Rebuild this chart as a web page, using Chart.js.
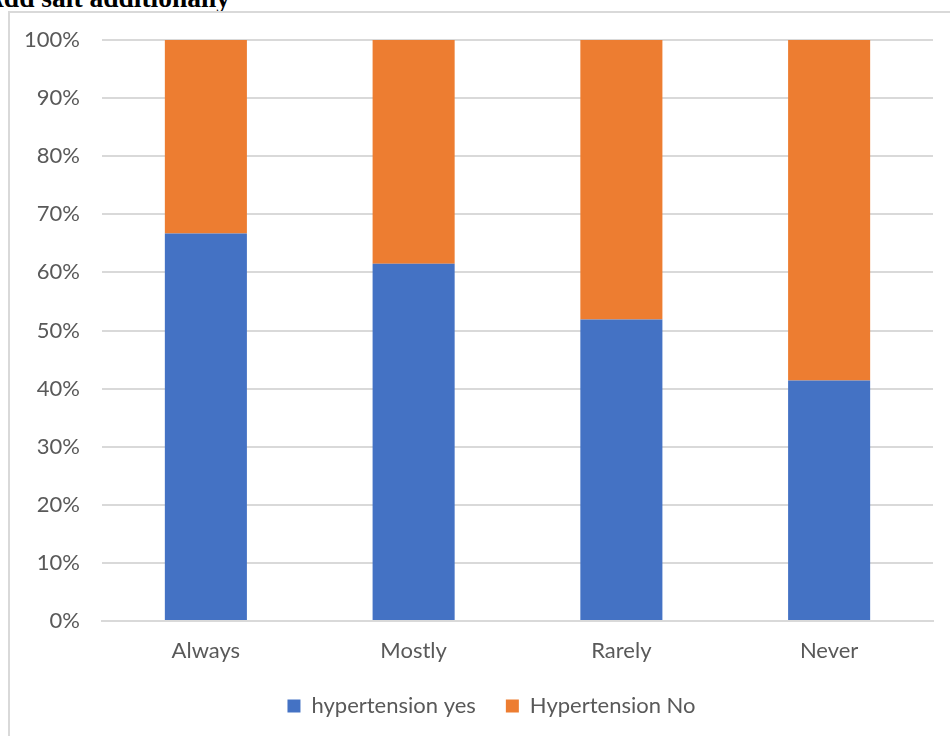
<!DOCTYPE html>
<html>
<head>
<meta charset="utf-8">
<script src="https://cdn.jsdelivr.net/npm/chart.js@4/dist/chart.umd.min.js"></script>
<style>
  html, body { margin: 0; padding: 0; background: #fff; overflow: hidden; }
  body { width: 950px; height: 736px; position: relative; }
  #title { position: absolute; left: -16px; top: -16px; font-family: "Liberation Serif", "Times New Roman", serif; font-weight: bold; font-size: 27.5px; line-height: 1; color: #000; white-space: nowrap; }
  #frame { position: absolute; left: 8px; top: 11px; width: 960px; height: 740px; border-left: 2px solid #d9d9d9; border-top: 2px solid #d9d9d9; box-sizing: border-box; }
  #wrap { position: absolute; left: 0; top: 0; width: 950px; height: 736px; }
</style>
</head>
<body>
<div id="title">Add salt additionally</div>
<div id="frame"></div>
<div id="wrap"><canvas id="c"></canvas></div>
<script>
const categories = ["Always", "Mostly", "Rarely", "Never"];
const hypertensionYes = [66.7, 61.5, 51.9, 41.4];
const hypertensionNo = [33.3, 38.5, 48.1, 58.6];
const seriesNames = ["hypertension yes", "Hypertension No"];
const yTicks = [0, 10, 20, 30, 40, 50, 60, 70, 80, 90, 100];

const FONT = "Lato, 'Open Sans', sans-serif";

const shiftLegend = {
  id: 'shiftLegend',
  afterLayout(chart) {
    if (chart.legend) {
      chart.legend.left += 25;
      chart.legend.right += 25;
    }
  }
};

new Chart(document.getElementById('c'), {
  type: 'bar',
  data: {
    labels: categories,
    datasets: [
      { label: seriesNames[0], data: hypertensionYes, backgroundColor: '#4472C4', borderWidth: 0 },
      { label: seriesNames[1], data: hypertensionNo, backgroundColor: '#ED7D31', borderWidth: 0 }
    ]
  },
  plugins: [shiftLegend],
  options: {
    responsive: true,
    maintainAspectRatio: false,
    animation: false,
    layout: { padding: { left: 0, right: 17, top: 40, bottom: 9 } },
    datasets: { bar: { categoryPercentage: 1.0, barPercentage: 0.395 } },
    scales: {
      x: {
        stacked: true,
        afterFit: (s) => { s.height = 44; },
        grid: { display: false, drawTicks: false },
        border: { display: true, color: '#d9d9d9', width: 2 },
        ticks: { color: '#595959', font: { family: FONT, size: 22 }, padding: 17, maxRotation: 0 }
      },
      y: {
        stacked: true,
        min: 0, max: 100,
        afterBuildTicks: (s) => { s.ticks = yTicks.map(v => ({ value: v })); },
        afterFit: (s) => { s.width = 102; },
        grid: { color: '#d9d9d9', lineWidth: 2, drawTicks: false },
        border: { display: false },
        ticks: { color: '#595959', font: { family: FONT, size: 22 }, padding: 22, callback: v => v + '%' }
      }
    },
    plugins: {
      legend: {
        position: 'bottom',
        labels: { color: '#595959', font: { family: FONT, size: 22 }, boxWidth: 13, boxHeight: 13, padding: 30 }
      },
      tooltip: { enabled: false },
      title: { display: false }
    }
  }
});
</script>
</body>
</html>
